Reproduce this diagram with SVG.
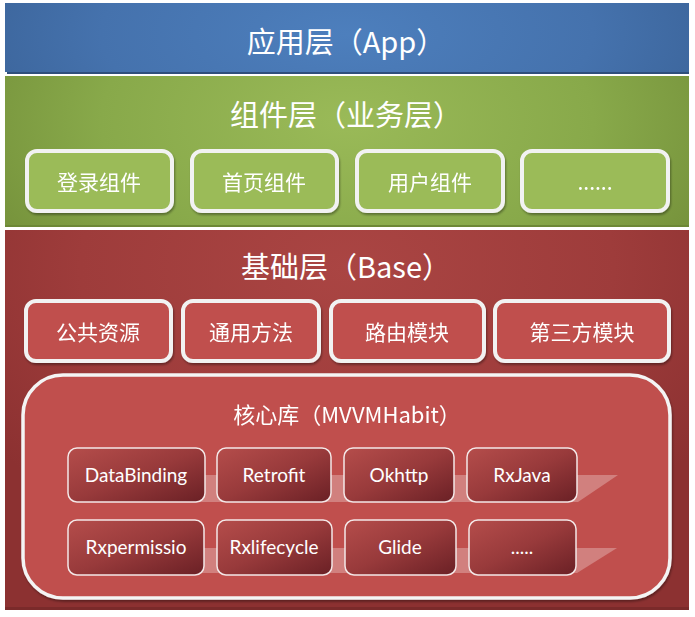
<svg xmlns="http://www.w3.org/2000/svg" width="695" height="617" viewBox="0 0 695 617">
<defs>
<radialGradient id="gBlue" cx="0.5" cy="0.45" r="0.6" gradientTransform="translate(0.5 0.45) scale(1 4) translate(-0.5 -0.45)">
<stop offset="0" stop-color="#4d7fbd"/><stop offset="0.6" stop-color="#4572ad"/><stop offset="1" stop-color="#3a6297"/>
</radialGradient>
<radialGradient id="gGreen" cx="0.5" cy="0.3" r="0.6" gradientTransform="translate(0.5 0.3) scale(1 2.5) translate(-0.5 -0.3)">
<stop offset="0" stop-color="#9aba58"/><stop offset="0.6" stop-color="#88a94a"/><stop offset="1" stop-color="#74903a"/>
</radialGradient>
<radialGradient id="gRed" cx="0.5" cy="0.1" r="0.65" gradientTransform="translate(0.5 0.1) scale(1 1.2) translate(-0.5 -0.1)">
<stop offset="0" stop-color="#aa4543"/><stop offset="0.6" stop-color="#9e3c3b"/><stop offset="1" stop-color="#8c3131"/>
</radialGradient>
<linearGradient id="gInner" x1="0" y1="0" x2="1" y2="1">
<stop offset="0" stop-color="#b54d4b"/><stop offset="0.5" stop-color="#983a3b"/><stop offset="1" stop-color="#6a2025"/>
</linearGradient>
<filter id="sh" x="-10%" y="-10%" width="125%" height="130%">
<feDropShadow dx="1" dy="2" stdDeviation="1.2" flood-color="#000" flood-opacity="0.35"/>
</filter>
</defs>
<style>
.title{font-family:"Noto Sans CJK SC","Microsoft YaHei",sans-serif;fill:#fff;text-anchor:middle}
.lbl{font-family:"Noto Sans CJK SC",sans-serif;font-size:21px;fill:#fff;text-anchor:middle}
.lat{font-family:Lato,"Noto Sans",sans-serif;font-size:19px;fill:#fff;text-anchor:middle}
.gbox{fill:#9bbb59;stroke:#f2f2f2;stroke-width:4}
.rbox{fill:#c0504d;stroke:#f2f2f2;stroke-width:4}
.ibox{fill:url(#gInner);stroke:#f4e8e8;stroke-width:1.5}
</style>

<g id="app-layer">
<rect x="7" y="5" width="682" height="69" fill="#2f4f7c"/>
<rect x="5" y="3" width="684" height="69" fill="url(#gBlue)"/>
<text class="title" x="346" y="53" font-size="29">应用层（App）</text>
</g>

<g id="component-layer">
<rect x="5" y="76" width="684" height="151" fill="url(#gGreen)"/>
<rect x="5" y="225" width="684" height="2" fill="#6d8836"/>
<text class="title" x="346" y="126" font-size="29">组件层（业务层）</text>
</g>
<g id="login" filter="url(#sh)"><rect class="gbox" x="27" y="151" width="145" height="60" rx="10"/><text class="lbl" x="99" y="190">登录组件</text></g>
<g id="home" filter="url(#sh)"><rect class="gbox" x="192" y="151" width="145" height="60" rx="10"/><text class="lbl" x="264" y="190">首页组件</text></g>
<g id="user" filter="url(#sh)"><rect class="gbox" x="357" y="151" width="146" height="60" rx="10"/><text class="lbl" x="430" y="190">用户组件</text></g>
<g id="more-comp" filter="url(#sh)"><rect class="gbox" x="522" y="151" width="146" height="60" rx="10"/><text class="lbl" x="595" y="190">......</text></g>

<g id="base-layer">
<rect x="5" y="230" width="684" height="380" fill="url(#gRed)"/>
<rect x="5" y="607" width="684" height="3" fill="#7a2a2a"/>
<text class="title" x="346" y="278" font-size="29">基础层（Base）</text>
</g>
<g id="resources" filter="url(#sh)"><rect class="rbox" x="26" y="301" width="145" height="60" rx="10"/><text class="lbl" x="98" y="340">公共资源</text></g>
<g id="methods" filter="url(#sh)"><rect class="rbox" x="183" y="301" width="136" height="60" rx="10"/><text class="lbl" x="251" y="340">通用方法</text></g>
<g id="router" filter="url(#sh)"><rect class="rbox" x="331" y="301" width="153" height="60" rx="10"/><text class="lbl" x="407" y="340">路由模块</text></g>
<g id="thirdparty" filter="url(#sh)"><rect class="rbox" x="495" y="301" width="174" height="60" rx="10"/><text class="lbl" x="582" y="340">第三方模块</text></g>

<g id="core" filter="url(#sh)">
<rect x="23" y="375" width="647" height="223" rx="40" fill="#c0504d" stroke="#f4f4f4" stroke-width="3.5"/>
<text class="title" x="347" y="423" font-size="22">核心库（MVVMHabit）</text>
</g>

<g id="connectors">
<polygon points="80,475 618,475 578,502 80,502" fill="#ffffff" fill-opacity="0.28"/>
<polygon points="80,548 617,548 577,573 80,573" fill="#ffffff" fill-opacity="0.28"/>
</g>

<g id="databinding"><rect class="ibox" x="68" y="448" width="137" height="54" rx="9"/><text class="lat" x="136" y="482">DataBinding</text></g>
<g id="retrofit"><rect class="ibox" x="217" y="448" width="114" height="54" rx="9"/><text class="lat" x="274" y="482">Retrofit</text></g>
<g id="okhttp"><rect class="ibox" x="344" y="448" width="110" height="54" rx="9"/><text class="lat" x="399" y="482">Okhttp</text></g>
<g id="rxjava"><rect class="ibox" x="467" y="448" width="110" height="54" rx="9"/><text class="lat" x="522" y="482">RxJava</text></g>
<g id="rxpermission"><rect class="ibox" x="68" y="520" width="136" height="55" rx="9"/><text class="lat" x="136" y="554">Rxpermissio</text></g>
<g id="rxlifecycle"><rect class="ibox" x="217" y="520" width="115" height="55" rx="9"/><text class="lat" x="274" y="554">Rxlifecycle</text></g>
<g id="glide"><rect class="ibox" x="345" y="520" width="111" height="55" rx="9"/><text class="lat" x="400" y="554">Glide</text></g>
<g id="more-lib"><rect class="ibox" x="469" y="520" width="107" height="55" rx="9"/><text class="lat" x="522" y="554">.....</text></g>
</svg>
